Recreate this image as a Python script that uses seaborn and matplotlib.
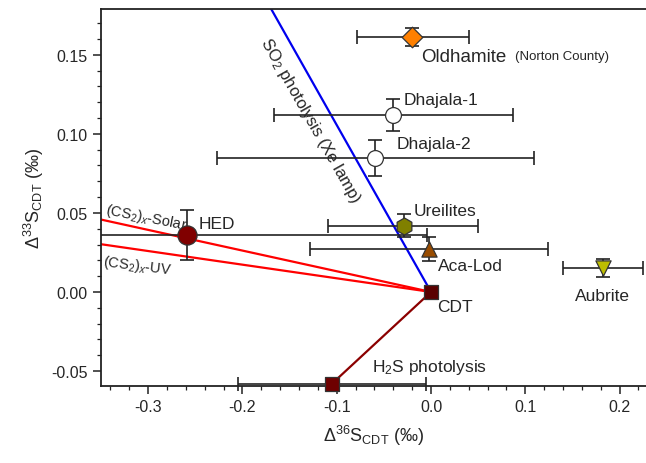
import numpy as np
import pandas as pd
import matplotlib
matplotlib.use("Agg")
import matplotlib.pyplot as plt
from matplotlib.ticker import MultipleLocator
import seaborn as sns

# ---- data ----
names = ["Oldhamite", "Dhajala-1", "Dhajala-2", "Ureilites", "HED", "Aca-Lod", "Aubrite", "CDT", "H2S photolysis"]
d36 = [-0.020, -0.040, -0.059, -0.029, -0.259, -0.002, 0.182, 0.000, -0.105]
d33 = [0.161, 0.112, 0.085, 0.042, 0.036, 0.027, 0.015, 0.000, -0.058]
x_lo = [-0.078, -0.167, -0.227, -0.109, -0.520, -0.128, 0.1395, 0.0, -0.205]
x_hi = [0.040, 0.087, 0.1095, 0.050, -0.004, 0.124, 0.225, 0.0, -0.005]
y_err = [0.0057, 0.0101, 0.0114, 0.0070, 0.0158, 0.0076, 0.0056, 0.0, 0.0015]
markers = ["D", "o", "o", "h", "o", "^", "v", "s", "s"]
colors = ["#FF8000", "#FFFFFF", "#FFFFFF", "#808000", "#800000", "#994C00", "#BDBD00", "#5A0000", "#6E0000"]
msizes = [110, 130, 130, 150, 190, 120, 120, 110, 110]

so2_x = [0.0, -0.20]
so2_y = [0.0, 0.2112]
solar_x = [0.0, -0.35]
solar_y = [0.0, 0.0458]
uv_x = [0.0, -0.35]
uv_y = [0.0, 0.0302]
h2s_x = [0.0, -0.105]
h2s_y = [0.0, -0.058]

df = pd.DataFrame({"name": names, "d36": d36, "d33": d33})

sns.set_style("ticks")
plt.rcParams["font.family"] = ["Liberation Sans", "DejaVu Sans"]
plt.rcParams["mathtext.fontset"] = "custom"
plt.rcParams["mathtext.rm"] = "Liberation Sans"
plt.rcParams["mathtext.it"] = "Liberation Sans:italic"
plt.rcParams["axes.unicode_minus"] = False

W, H = 646, 464
fig = plt.figure(figsize=(W / 100, H / 100), dpi=100)
L, R, T, B = 101, 646, 10, 387
ax = fig.add_axes([L / W, (H - B) / H, (R - L) / W, (B - T) / H])

# lines
sns.lineplot(x=so2_x, y=so2_y, ax=ax, color="#0000EE", lw=1.6, sort=False, zorder=2)
sns.lineplot(x=solar_x, y=solar_y, ax=ax, color="#FF0000", lw=1.6, sort=False, zorder=2)
sns.lineplot(x=uv_x, y=uv_y, ax=ax, color="#FF0000", lw=1.6, sort=False, zorder=2)
sns.lineplot(x=h2s_x, y=h2s_y, ax=ax, color="#8B0000", lw=1.6, sort=False, zorder=2)

# error bars
for i in range(len(names)):
    xl = d36[i] - x_lo[i]
    xh = x_hi[i] - d36[i]
    clip = x_lo[i] < -0.35
    if xl > 0 or xh > 0:
        eb = ax.errorbar(d36[i], d33[i], xerr=[[xl], [xh]], fmt="none", ecolor="#222222",
                         elinewidth=1.2, capsize=5, capthick=1.2, zorder=3)
        for art in list(eb.lines[1]) + list(eb.lines[2]):
            art.set_clip_on(clip)
    if y_err[i] > 0:
        eb = ax.errorbar(d36[i], d33[i], yerr=y_err[i], fmt="none", ecolor="#222222",
                         elinewidth=1.2, capsize=5, capthick=1.2, zorder=3)
        for art in list(eb.lines[1]) + list(eb.lines[2]):
            art.set_clip_on(False)

# markers
for i in range(len(names)):
    sns.scatterplot(data=df.iloc[[i]], x="d36", y="d33", ax=ax, marker=markers[i],
                    s=msizes[i], color=colors[i], edgecolor="#333333", linewidth=0.9,
                    zorder=4, clip_on=False, legend=False)

ax.set_xlim(-0.35, 0.228)
ax.set_ylim(-0.0595, 0.179)
ax.xaxis.set_major_locator(MultipleLocator(0.1))
ax.xaxis.set_minor_locator(MultipleLocator(0.02))
ax.yaxis.set_major_locator(MultipleLocator(0.05))
ax.yaxis.set_minor_locator(MultipleLocator(0.01))
ax.xaxis.set_major_formatter(matplotlib.ticker.FuncFormatter(lambda v, p: f"{v:.1f}".replace("-0.0", "0.0")))
ax.yaxis.set_major_formatter(matplotlib.ticker.FuncFormatter(lambda v, p: f"{v:.2f}".replace("-0.00", "0.00")))
ax.tick_params(axis="both", which="major", direction="out", length=6, width=1.1, labelsize=11.5, color="#222222")
ax.tick_params(axis="both", which="minor", direction="out", length=3, width=0.9, color="#222222")
for s in ["left", "bottom", "top"]:
    ax.spines[s].set_linewidth(1.3)
    ax.spines[s].set_color("#222222")
ax.spines["right"].set_visible(False)

ax.set_xlabel(r"$\Delta^{36}$S$_{\mathrm{CDT}}$ (‰)", fontsize=13, labelpad=6)
ax.set_ylabel(r"$\Delta^{33}$S$_{\mathrm{CDT}}$ (‰)", fontsize=13, labelpad=4)

fs = 12.5
ax.text(-0.011, 0.149, "Oldhamite", fontsize=13.5, va="center", ha="left")
ax.text(0.089, 0.149, "(Norton County)", fontsize=9.5, va="center", ha="left")
ax.text(-0.029, 0.1215, "Dhajala-1", fontsize=fs, va="center", ha="left")
ax.text(-0.036, 0.094, "Dhajala-2", fontsize=fs, va="center", ha="left")
ax.text(-0.018, 0.0515, "Ureilites", fontsize=fs, va="center", ha="left")
ax.text(0.007, 0.0165, "Aca-Lod", fontsize=fs, va="center", ha="left")
ax.text(0.182, -0.002, "Aubrite", fontsize=fs, va="center", ha="center")
ax.text(0.006, -0.009, "CDT", fontsize=fs, va="center", ha="left")
ax.text(-0.246, 0.0435, "HED", fontsize=fs, va="center", ha="left")
ax.text(-0.063, -0.047, r"H$_2$S photolysis", fontsize=fs, va="center", ha="left")
ax.text(-0.347, 0.0465, r"(CS$_2$)$_x$-Solar", fontsize=10.5, va="bottom", ha="left",
        rotation=-11, rotation_mode="anchor")
ax.text(-0.347, 0.0255, r"(CS$_2$)$_x$-UV", fontsize=10.5, va="top", ha="left",
        rotation=-7, rotation_mode="anchor")
ax.text(-0.128, 0.109, r"SO$_2$ photolysis (Xe lamp)", fontsize=12, va="center", ha="center",
        rotation=-60.5, rotation_mode="anchor")

fig.savefig("out.png", dpi=100)
